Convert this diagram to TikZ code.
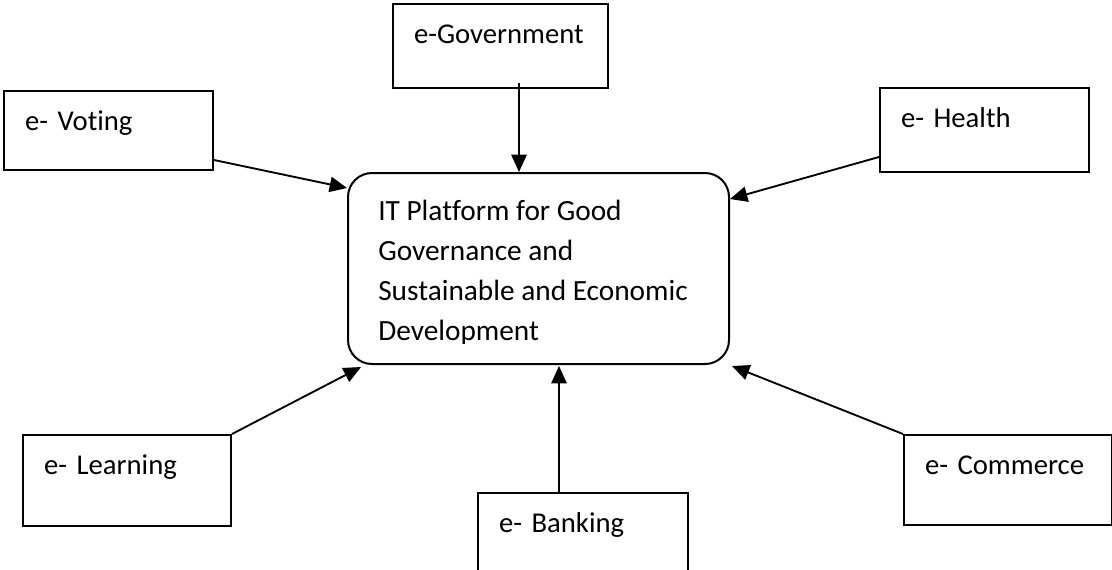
\documentclass[tikz,border=0pt]{standalone}
\usepackage{fontspec}
\setmainfont{Carlito}[Ligatures=NoCommon]
\usetikzlibrary{arrows.meta,calc}
\begin{document}
\begin{tikzpicture}[x=0.75pt,y=-0.75pt,
    ebox/.style 2 args={draw, line width=1.5pt, anchor=north west,
      inner xsep=15.75pt, inner ysep=0pt, align=left,
      text width=#1, text height=29.25pt, text depth=#2},
    link/.style={line width=1.4pt, -{Triangle[length=13pt,width=11.5pt]}},
    font=\fontsize{21.5}{30}\selectfont]
  \useasboundingbox (0,0) rectangle (1112,569);
  \clip (0,0) rectangle (1112,569);
  \node[draw, line width=1.5pt, rounded corners=18pt, anchor=north west,
    minimum width=285.75pt, minimum height=143.25pt, inner sep=0pt] (hub) at (347,172) {};
  \begin{scope}
    \clip (hub.north west) rectangle (728,343);
    \node[anchor=base west, align=left, inner sep=0pt,
      font=\fontsize{22}{30}\selectfont] (title) at (378,340)
      {IT Platform for Good\\Governance and\\Sustainable and Economic\\Development};
  \end{scope}
  \node[ebox={129.75pt}{33.75pt}] (gov) at (392,3) {e-Government};
  \node[ebox={125.25pt}{30pt}] (voting) at (3,90) {e- Voting};
  \node[ebox={125.25pt}{33.75pt}] (health) at (879,87) {e- Health};
  \node[ebox={124.5pt}{39pt}] (learning) at (22,434) {e- Learning};
  \node[ebox={126pt}{60.75pt}] (banking) at (477,492) {e- Banking};
  \node[ebox={124.5pt}{38.25pt}] (commerce) at (903,434) {e- Commerce};
  \draw[link] ($(gov.south)+(18.5,-6)$) -- ($(hub.north)+(-19.5,0)$);
  \draw[link] ($(voting.south east)+(0,-11)$) -- ($(hub.north west)+(0,16)$);
  \draw[link] ($(health.south west)+(0,-16)$) -- ($(hub.north east)+(0,27)$);
  \draw[link] (learning.north east) -- ($(hub.south west)+(14,2)$);
  \draw[link] ($(banking.north west)+(82,0)$) -- ($(hub.south)+(20.5,1)$);
  \draw[link] (commerce.north west) -- ($(hub.south east)+(2,1)$);
\end{tikzpicture}
\end{document}
